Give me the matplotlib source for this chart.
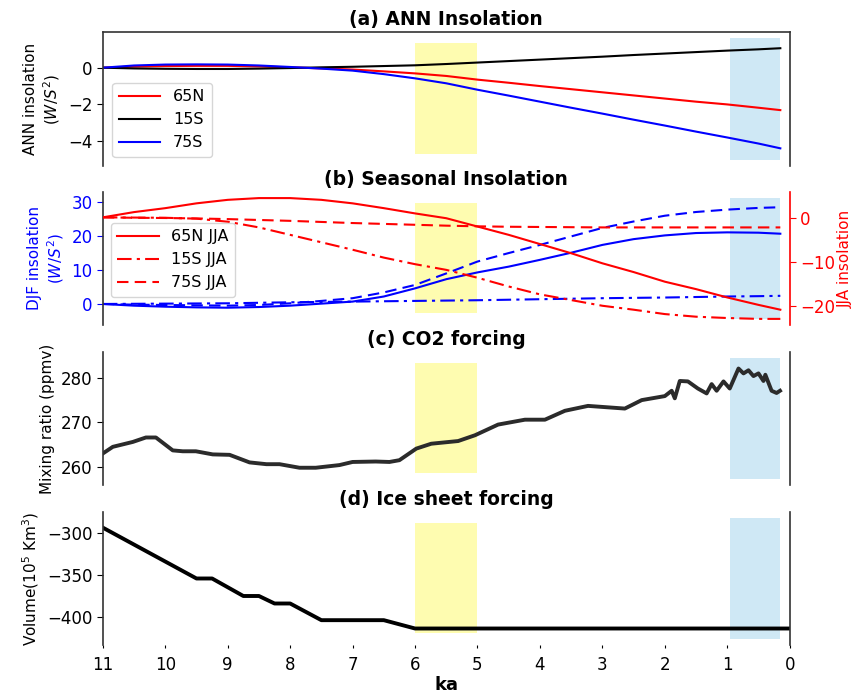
from matplotlib import pyplot as plt

# Time axis (ka) for insolation curves.
ka = [11, 10.5, 10, 9.5, 9, 8.5, 8, 7.5, 7, 6.5, 6, 5.5, 5, 4.5, 4, 3.5, 3, 2.5,
      2, 1.5, 1, 0.5, 0.15]

# (a) Annual insolation anomalies.
ann65N = [0, 0.06, 0.09, 0.1, 0.1, 0.07, 0.02, -0.04, -0.1, -0.2, -0.31, -0.45,
          -0.65, -0.82, -1.0, -1.17, -1.34, -1.51, -1.68, -1.85, -2.0, -2.18, -2.31]
ann15S = [0, -0.04, -0.06, -0.07, -0.07, -0.05, -0.02, 0.02, 0.05, 0.09, 0.13, 0.2,
          0.28, 0.36, 0.44, 0.52, 0.6, 0.69, 0.77, 0.85, 0.93, 1.0, 1.06]
ann75S = [0, 0.12, 0.17, 0.18, 0.17, 0.12, 0.04, -0.05, -0.16, -0.35, -0.58, -0.85,
          -1.2, -1.52, -1.85, -2.18, -2.5, -2.83, -3.15, -3.48, -3.8, -4.13, -4.39]

# (b) Seasonal insolation anomalies.
djf65N = [0, -0.5, -0.8, -1.0, -1.1, -0.9, -0.5, 0.1, 0.7, 2.2, 4.6, 7.3,
          9.3, 11.0, 13.0, 15.1, 17.4, 19.1, 20.2, 20.9, 21.1, 21.0, 20.7]
djf15S = [0, 0.05, 0.1, 0.15, 0.2, 0.35, 0.5, 0.6, 0.7, 0.8, 0.9, 1.0,
          1.1, 1.25, 1.4, 1.55, 1.7, 1.8, 1.9, 2.05, 2.2, 2.3, 2.4]
djf75S = [0, -0.2, -0.3, -0.4, -0.5, -0.3, 0.2, 0.9, 1.7, 3.4, 5.6, 9.0,
          12.5, 15.0, 17.4, 19.9, 22.4, 24.3, 26.0, 27.1, 27.8, 28.3, 28.5]
jja65N = [0.2, 1.4, 2.3, 3.4, 4.2, 4.6, 4.6, 4.2, 3.4, 2.3, 1.1, 0.0,
          -1.9, -3.8, -5.9, -8.0, -10.3, -12.3, -14.5, -16.2, -18.1, -19.8, -20.9]
jja15S = [0.2, 0.15, 0.1, -0.1, -0.8, -2.1, -3.8, -5.5, -7.2, -9.0, -10.5, -11.8,
          -13.6, -15.6, -17.4, -18.7, -20.0, -20.9, -21.9, -22.5, -22.8, -23.0, -23.0]
jja75S = [0.2, 0.1, 0.05, -0.05, -0.2, -0.4, -0.6, -0.85, -1.1, -1.3, -1.5, -1.7,
          -1.85, -1.95, -2.0, -2.05, -2.1, -2.1, -2.1, -2.1, -2.1, -2.1, -2.1]

# (c) CO2 record.
co2Ka = [11, 10.84, 10.52, 10.31, 10.15, 9.88, 9.72, 9.51, 9.24, 8.97, 8.65, 8.38,
         8.17, 7.85, 7.59, 7.21, 7.0, 6.63, 6.41, 6.25, 5.98, 5.74, 5.31, 5.04,
         4.67, 4.24, 3.92, 3.6, 3.23, 2.64, 2.37, 2.0, 1.89, 1.84, 1.76, 1.63,
         1.47, 1.33, 1.25, 1.17, 1.06, 0.96, 0.82, 0.74, 0.66, 0.58, 0.5, 0.42,
         0.39, 0.29, 0.21, 0.155]
co2 = [263.0, 264.5, 265.6, 266.6, 266.6, 263.7, 263.5, 263.5, 262.8, 262.7, 261.0, 260.6,
       260.6, 259.8, 259.8, 260.4, 261.1, 261.2, 261.1, 261.5, 264.1, 265.2, 265.8, 267.1,
       269.5, 270.6, 270.6, 272.6, 273.7, 273.1, 275.0, 275.9, 277.1, 275.4, 279.3, 279.2,
       277.6, 276.5, 278.6, 277.1, 279.2, 277.6, 282.1, 281.0, 281.7, 280.4, 281.0, 279.3,
       280.7, 277.1, 276.6, 277.1]

# (d) Ice sheet volume.
iceKa = [11, 9.5, 9.25, 8.75, 8.5, 8.25, 8.0, 7.5, 6.5, 6.0, 0]
ice = [-293, -354, -354, -375, -375, -384, -384, -404, -404, -414, -414]

# Highlighted periods (ka).
midHolo = (6, 5)
lateHolo = (0.95, 0.15)

spineColor = '#333333'
tickSize = 12
labelSize = 11
titleSize = 13.5
dashed = (0, (5.5, 3))
dashDot = (0, (7, 2.5, 1.5, 2.5))


def addSpans(ax):
  ax.axvspan(midHolo[0], midHolo[1], ymin=0.09, ymax=0.92, color='#fefcb0', lw=0, zorder=0)
  ax.axvspan(lateHolo[0], lateHolo[1], ymin=0.045, ymax=0.955, color='#cfe8f5', lw=0, zorder=0)


def styleAx(ax, top=False):
  ax.set_xlim(11, 0)
  ax.spines['bottom'].set_visible(False)
  ax.spines['top'].set_visible(top)
  for s in ['left', 'right', 'top']:
    ax.spines[s].set_color(spineColor)
    ax.spines[s].set_linewidth(1.2)
  ax.tick_params(axis='y', labelsize=tickSize, length=4)
  ax.tick_params(axis='x', bottom=False, labelbottom=False)


plt.rcParams['font.family'] = 'DejaVu Sans'
fig = plt.figure(figsize=(8.64, 6.93), dpi=100)
left, width = 0.119, 0.795
axA = fig.add_axes([left, 0.760, width, 0.194])
axB = fig.add_axes([left, 0.531, width, 0.192])
axC = fig.add_axes([left, 0.300, width, 0.192])
axD = fig.add_axes([left, 0.069, width, 0.192])

# (a) ANN insolation.
addSpans(axA)
axA.plot(ka, ann65N, color='red', lw=1.5, label='65N')
axA.plot(ka, ann15S, color='black', lw=1.5, label='15S')
axA.plot(ka, ann75S, color='blue', lw=1.5, label='75S')
styleAx(axA, top=True)
axA.set_ylim(-5.37, 1.95)
axA.set_yticks([-4, -2, 0])
axA.set_ylabel('ANN insolation\n($W/S^2$)', fontsize=labelSize)
axA.set_title('(a) ANN Insolation', fontsize=titleSize, fontweight='bold', pad=5)
axA.legend(loc='lower left', fontsize=11.5, borderaxespad=0.6, handlelength=2.6)

# (b) Seasonal insolation.
addSpans(axB)
axB.plot(ka, djf65N, color='blue', lw=1.5, ls='-')
axB.plot(ka, djf15S, color='blue', lw=1.5, ls=dashDot)
axB.plot(ka, djf75S, color='blue', lw=1.5, ls=dashed)
styleAx(axB)
axB.spines['right'].set_visible(False)
axB.set_ylim(-6.2, 33)
axB.set_yticks([0, 10, 20, 30])
axB.tick_params(axis='y', colors='blue')
axB.set_ylabel('DJF insolation\n($W/S^2$)', fontsize=labelSize, color='blue')
axB.set_title('(b) Seasonal Insolation', fontsize=titleSize, fontweight='bold', pad=5)

axB2 = axB.twinx()
axB2.plot(ka, jja65N, color='red', lw=1.5, ls='-', label='65N JJA')
axB2.plot(ka, jja15S, color='red', lw=1.5, ls=dashDot, label='15S JJA')
axB2.plot(ka, jja75S, color='red', lw=1.5, ls=dashed, label='75S JJA')
axB2.set_xlim(11, 0)
for s in ['top', 'bottom', 'left']:
  axB2.spines[s].set_visible(False)
axB2.spines['right'].set_color('red')
axB2.spines['right'].set_linewidth(1.2)
axB2.set_ylim(-24.4, 6)
axB2.set_yticks([-20, -10, 0])
axB2.tick_params(axis='y', colors='red', labelsize=tickSize, length=4)
axB2.set_ylabel('JJA insolation', fontsize=labelSize, color='red', labelpad=2)
axB2.legend(loc='center left', bbox_to_anchor=(0.0, 0.49), fontsize=11.5, handlelength=2.6)

# (c) CO2 forcing.
addSpans(axC)
axC.plot(co2Ka, co2, color='#2b2b2b', lw=2.8)
styleAx(axC)
axC.set_ylim(255.9, 285.8)
axC.set_yticks([260, 270, 280])
axC.set_ylabel('Mixing ratio (ppmv)', fontsize=labelSize)
axC.set_title('(c) CO2 forcing', fontsize=titleSize, fontweight='bold', pad=5)

# (d) Ice sheet forcing.
addSpans(axD)
axD.plot(iceKa, ice, color='black', lw=2.8)
styleAx(axD)
axD.set_ylim(-434, -274.4)
axD.set_yticks([-400, -350, -300])
axD.set_ylabel('Volume(10$^5$ Km$^3$)', fontsize=labelSize)
axD.set_title('(d) Ice sheet forcing', fontsize=titleSize, fontweight='bold', pad=5)
axD.set_xticks(range(11, -1, -1))
axD.tick_params(axis='x', bottom=True, labelbottom=True, labelsize=tickSize, length=2, pad=6)
axD.set_xlabel('ka', fontsize=13, fontweight='bold', labelpad=1)

fig.savefig('out.png', dpi=100)
